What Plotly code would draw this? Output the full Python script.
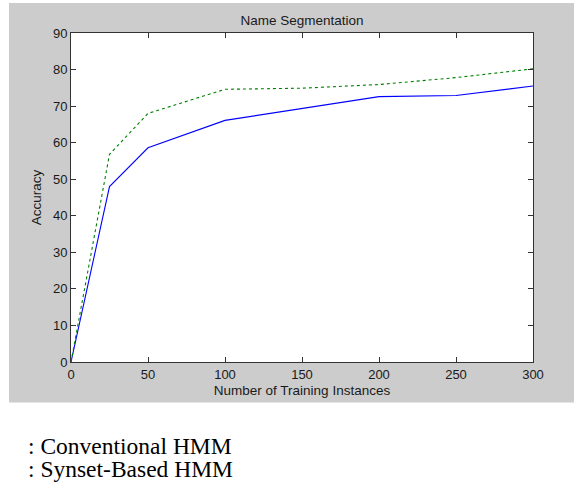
import plotly.graph_objects as go

# Data
training_instances = [0, 25, 50, 100, 200, 250, 300]
conventional_hmm = [0, 48.0, 58.6, 66.1, 72.6, 72.9, 75.5]
synset_instances = [0, 25, 50, 100, 150, 200, 250, 300]
synset_hmm = [0, 56.8, 68.0, 74.6, 74.9, 75.9, 77.8, 80.2]

x_ticks = [0, 50, 100, 150, 200, 250, 300]
y_ticks = [0, 10, 20, 30, 40, 50, 60, 70, 80, 90]

title_text = "Name Segmentation"
x_title = "Number of Training Instances"
y_title = "Accuracy"
legend_lines = [": Conventional HMM", ": Synset-Based HMM"]

W, H = 574, 489
L, R, T, B = 71, 41, 33, 127
pw, ph = W - L - R, H - T - B

def px_x(p):
    return (p - L) / pw

def px_y(p):
    return (H - B - p) / ph

SANS = "Liberation Sans, Arial, sans-serif"
SERIF = "Liberation Serif, Times New Roman, serif"
TXT = "#1a1a1a"

fig = go.Figure()
fig.add_trace(go.Scatter(
    x=training_instances, y=conventional_hmm, mode="lines",
    line=dict(color="#0000ff", width=1.1), name="Conventional HMM",
))
fig.add_trace(go.Scatter(
    x=synset_instances, y=synset_hmm, mode="lines",
    line=dict(color="#008000", width=1.1, dash="3px,3px"), name="Synset-Based HMM",
))

axis_common = dict(
    showline=True, linecolor="#333333", linewidth=1, mirror="allticks",
    ticks="inside", ticklen=5, tickcolor="#333333", tickwidth=1,
    showgrid=False, zeroline=False,
    tickfont=dict(family=SANS, size=13, color=TXT),
)

fig.update_layout(
    width=W, height=H,
    margin=dict(l=L, r=R, t=T, b=B),
    paper_bgcolor="white", plot_bgcolor="white",
    showlegend=False,
    title=dict(text=title_text, x=0.5, xref="paper", xanchor="center",
               y=1 - 20 / H, yanchor="middle",
               font=dict(family=SANS, size=13.5, color=TXT)),
    xaxis=dict(range=[0, 300], tickvals=x_ticks, ticktext=[str(v) for v in x_ticks],
               title=dict(text=x_title, standoff=4, font=dict(family=SANS, size=13.5, color=TXT)),
               **axis_common),
    yaxis=dict(range=[0, 90], tickvals=y_ticks, ticktext=[str(v) for v in y_ticks],
               title=dict(text=y_title, standoff=8, font=dict(family=SANS, size=13.5, color=TXT)),
               **axis_common),
    shapes=[
        dict(type="rect", xref="paper", yref="paper", layer="below",
             x0=px_x(9), x1=px_x(W + 2), y0=px_y(402.5), y1=px_y(3),
             fillcolor="#cccccc", line=dict(width=0)),
        dict(type="rect", xref="paper", yref="paper", layer="below",
             x0=0, x1=1, y0=0, y1=1,
             fillcolor="white", line=dict(width=0)),
    ],
    annotations=[
        dict(text=legend_lines[0], xref="paper", yref="paper", x=px_x(26), y=px_y(446),
             xanchor="left", yanchor="middle", showarrow=False,
             font=dict(family=SERIF, size=23.5, color="black")),
        dict(text=legend_lines[1], xref="paper", yref="paper", x=px_x(26), y=px_y(469),
             xanchor="left", yanchor="middle", showarrow=False,
             font=dict(family=SERIF, size=23.5, color="black")),
    ],
)

fig.write_html("out.html", config={"displayModeBar": False},
               post_script="document.body.style.margin='0';")
